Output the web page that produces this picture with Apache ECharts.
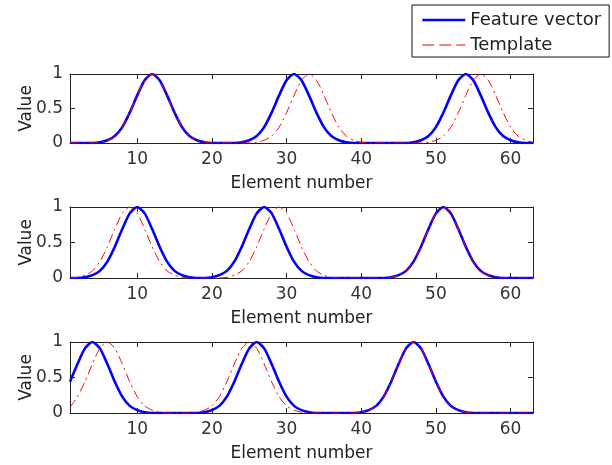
<!DOCTYPE html>
<html><head><meta charset="utf-8">
<script src="https://cdn.jsdelivr.net/npm/echarts@6/dist/echarts.min.js"></script>
<style>html,body{margin:0;padding:0;background:#fff}#c{width:612px;height:465px}</style>
</head><body><div id="c"></div>
<script>
const xTicks = [10, 20, 30, 40, 50, 60];
const yTicks = [0, 0.5, 1];
const blue1 = [0,0,0,0,0.01,0.04,0.10,0.23,0.44,0.69,
  0.91,1,0.91,0.69,0.44,0.23,0.10,0.04,0.01,0,
  0,0,0,0.01,0.04,0.10,0.23,0.44,0.69,0.91,
  1,0.91,0.69,0.44,0.23,0.10,0.04,0.01,0,0,
  0,0,0,0,0,0,0.01,0.04,0.10,0.23,
  0.44,0.69,0.91,1,0.91,0.69,0.44,0.23,0.10,0.04,
  0.01,0,0];
const red1 = [0,0,0,0,0.01,0.04,0.10,0.23,0.44,0.69,
  0.91,1,0.91,0.69,0.44,0.23,0.10,0.04,0.01,0,
  0,0,0,0,0,0.01,0.04,0.10,0.23,0.44,
  0.69,0.91,1,0.91,0.69,0.44,0.23,0.10,0.04,0.01,
  0,0,0,0,0,0,0,0,0.01,0.04,
  0.10,0.23,0.44,0.69,0.91,1,0.91,0.69,0.44,0.23,
  0.10,0.04,0.01];
const blue2 = [0,0,0.01,0.04,0.10,0.23,0.44,0.69,0.91,1,
  0.91,0.69,0.44,0.23,0.10,0.04,0.01,0,0,0.01,
  0.04,0.10,0.23,0.44,0.69,0.91,1,0.91,0.69,0.44,
  0.23,0.10,0.04,0.01,0,0,0,0,0,0,
  0,0,0,0.01,0.04,0.10,0.23,0.44,0.69,0.91,
  1,0.91,0.69,0.44,0.23,0.10,0.04,0.01,0,0,
  0,0,0];
const red2 = [0,0.01,0.04,0.10,0.23,0.44,0.69,0.91,1,0.91,
  0.69,0.44,0.23,0.10,0.04,0.01,0,0,0,0,
  0,0.01,0.04,0.10,0.23,0.44,0.69,0.91,1,0.91,
  0.69,0.44,0.23,0.10,0.04,0.01,0,0,0,0,
  0,0,0,0.01,0.04,0.10,0.23,0.44,0.69,0.91,
  1,0.91,0.69,0.44,0.23,0.10,0.04,0.01,0,0,
  0,0,0];
const blue3 = [0.44,0.69,0.91,1,0.91,0.69,0.44,0.23,0.10,0.04,
  0.01,0,0,0,0,0,0,0,0.01,0.04,
  0.10,0.23,0.44,0.69,0.91,1,0.91,0.69,0.44,0.23,
  0.10,0.04,0.01,0,0,0,0,0,0,0.01,
  0.04,0.10,0.23,0.44,0.69,0.91,1,0.91,0.69,0.44,
  0.23,0.10,0.04,0.01,0,0,0,0,0,0,
  0,0,0];
const red3 = [0.08,0.23,0.44,0.69,0.91,1,0.91,0.69,0.44,0.23,
  0.10,0.04,0.01,0,0,0,0,0.01,0.04,0.10,
  0.23,0.44,0.69,0.91,1,0.91,0.69,0.44,0.23,0.10,
  0.04,0.01,0,0,0,0,0,0,0,0.01,
  0.04,0.10,0.23,0.44,0.69,0.91,1,0.91,0.69,0.44,
  0.23,0.10,0.04,0.01,0,0,0,0,0,0,
  0,0,0];
const featureSets = [blue1, blue2, blue3];
const templateSets = [red1, red2, red3];
const nameFeature = 'Feature vector';
const nameTemplate = 'Template';
const xLabel = 'Element number';
const yLabel = 'Value';

const FONT = 'DejaVu Sans';
const grids = [
  {left: 70, top: 74, width: 463, height: 69},
  {left: 70, top: 207, width: 463, height: 71},
  {left: 70, top: 342, width: 463, height: 71}
];
const toPairs = arr => arr.map((v, i) => [i + 1, v]);
const xAxes = [], yAxes = [], series = [];
grids.forEach((g, i) => {
  xAxes.push({
    type: 'value', gridIndex: i, min: 1, max: 63, position: 'bottom',
    name: xLabel, nameLocation: 'middle', nameGap: 32, nameMoveOverlap: false,
    nameTextStyle: {fontFamily: FONT, fontSize: 17, color: '#222'},
    axisLine: {show: true, onZero: false, lineStyle: {color: '#222', width: 1}},
    axisTick: {show: true, inside: true, length: 5, customValues: xTicks, lineStyle: {color: '#222'}},
    axisLabel: {customValues: xTicks, fontFamily: FONT, fontSize: 17, color: '#333', margin: 8},
    splitLine: {show: false}
  });
  xAxes.push({
    type: 'value', gridIndex: i, min: 1, max: 63, position: 'top',
    axisLine: {show: true, onZero: false, lineStyle: {color: '#222', width: 1}},
    axisTick: {show: true, inside: true, length: 5, customValues: xTicks, lineStyle: {color: '#222'}},
    axisLabel: {show: false}, splitLine: {show: false}
  });
  yAxes.push({
    type: 'value', gridIndex: i, min: 0, max: 1, interval: 0.5, position: 'left',
    name: yLabel, nameLocation: 'middle', nameGap: 35, nameRotate: 90, nameMoveOverlap: false,
    nameTextStyle: {fontFamily: FONT, fontSize: 17, color: '#222'},
    axisLine: {show: true, onZero: false, lineStyle: {color: '#222', width: 1}},
    axisTick: {show: true, inside: true, length: 5, lineStyle: {color: '#222'}},
    axisLabel: {fontFamily: FONT, fontSize: 17, color: '#333', margin: 7},
    splitLine: {show: false}
  });
  yAxes.push({
    type: 'value', gridIndex: i, min: 0, max: 1, interval: 0.5, position: 'right',
    axisLine: {show: true, onZero: false, lineStyle: {color: '#222', width: 1}},
    axisTick: {show: true, inside: true, length: 5, lineStyle: {color: '#222'}},
    axisLabel: {show: false}, splitLine: {show: false}
  });
  series.push({
    name: nameFeature, type: 'line', xAxisIndex: 2 * i, yAxisIndex: 2 * i,
    data: toPairs(featureSets[i]), symbol: 'none', smooth: 0.25,
    lineStyle: {color: '#0000ff', width: 2.6}, itemStyle: {color: '#0000ff'}, z: 2
  });
  series.push({
    name: nameTemplate, type: 'line', xAxisIndex: 2 * i, yAxisIndex: 2 * i,
    data: toPairs(templateSets[i]), symbol: 'none', smooth: 0.25,
    lineStyle: {color: '#ff0000', width: 1, type: [9, 4, 2, 4]}, itemStyle: {color: '#ff0000'}, z: 3
  });
});

const chart = echarts.init(document.getElementById('c'), null, {renderer: 'canvas'});
chart.setOption({
  animation: false,
  backgroundColor: '#fff',
  grid: grids,
  xAxis: xAxes,
  yAxis: yAxes,
  legend: {
    data: [
      {name: nameFeature, lineStyle: {width: 2.6, type: 'solid'}},
      {name: nameTemplate, lineStyle: {width: 1.2, type: [12, 5]}}
    ],
    orient: 'vertical', left: 412, top: 5,
    backgroundColor: '#fff', borderColor: '#111', borderWidth: 1,
    padding: [6, 8, 3, 9], itemWidth: 43, itemHeight: 18, itemGap: 7,
    itemStyle: {opacity: 0},
    textStyle: {fontFamily: FONT, fontSize: 18, color: '#222', padding: [0, 0, 0, 0]}
  },
  series: series
});
</script></body></html>
